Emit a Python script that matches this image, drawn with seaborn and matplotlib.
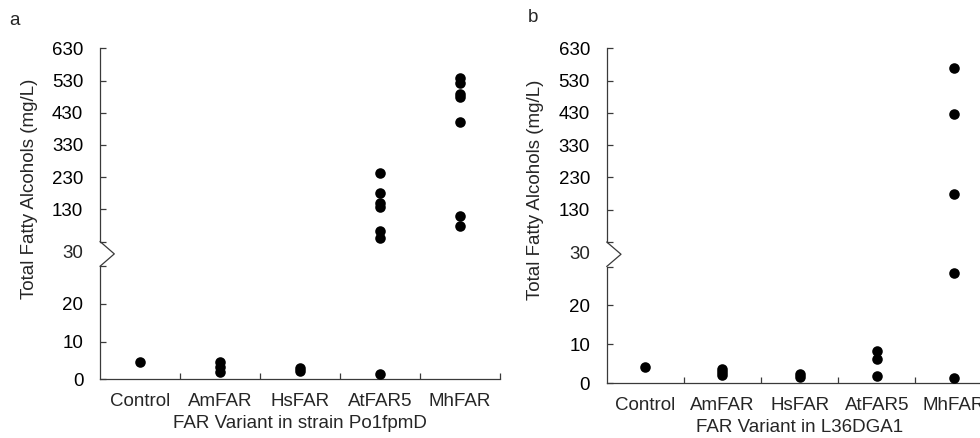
import numpy as np
import pandas as pd
import matplotlib
matplotlib.use("Agg")
import matplotlib.pyplot as plt
from matplotlib.lines import Line2D
import seaborn as sns

# ---------------- data ----------------
categories = ["Control", "AmFAR", "HsFAR", "AtFAR5", "MhFAR"]

a_control = [4.5]
a_amfar = [4.5, 3.3, 2.0]
a_hsfar = [3.1, 2.3]
a_atfar5 = [242, 180, 150, 136, 63, 40, 1.4]
a_mhfar = [537, 523, 487, 478, 402, 109, 78]

b_control = [4.0]
b_amfar = [3.5, 2.9, 2.05]
b_hsfar = [2.3, 1.6]
b_atfar5 = [8.3, 6.1, 1.8]
b_mhfar = [569, 428, 178, 28.3, 1.2]

upper_ticks = [30, 130, 230, 330, 430, 530, 630]
lower_ticks = [0, 10, 20, 30]
break_value = 30

panel_a_xlabel = "FAR Variant in strain Po1fpmD"
panel_b_xlabel = "FAR Variant in L36DGA1"
ylabel = "Total Fatty Alcohols (mg/L)"


def make_df(lists):
    rows = []
    for cat, vals in zip(categories, lists):
        for v in vals:
            rows.append((cat, v))
    return pd.DataFrame(rows, columns=["variant", "value"])


df_a = make_df([a_control, a_amfar, a_hsfar, a_atfar5, a_mhfar])
df_b = make_df([b_control, b_amfar, b_hsfar, b_atfar5, b_mhfar])

# ---------------- style ----------------
sns.set_style("ticks")
plt.rcParams["font.family"] = ["Liberation Sans", "DejaVu Sans"]
FS = 13.5
YPAD = 12
SPINE = "#3a3a3a"
LW = 0.9

W, H = 980, 438
fig = plt.figure(figsize=(W / 100, H / 100), dpi=100)


def fx(px):
    return px / W


def fy(py):
    return 1 - py / H


def panel(df, x0, x1, y630, y30top, y30bot, y0, apex_x, xlabel, ylab_x, ylab_y):
    ax_up = fig.add_axes([fx(x0), fy(y30top), fx(x1) - fx(x0), fy(y630) - fy(y30top)])
    ax_lo = fig.add_axes([fx(x0), fy(y0), fx(x1) - fx(x0), fy(y30bot) - fy(y0)])

    up = df[df["value"] > break_value]
    lo = df[df["value"] <= break_value]
    for ax, d in ((ax_up, up), (ax_lo, lo)):
        sns.stripplot(data=d, x="variant", y="value", order=categories, jitter=False,
                      color="black", size=7.6, linewidth=0, ax=ax, zorder=3)
        ax.set_xlim(-0.5, 4.5)
        ax.set_ylabel("")
        for s in ("top", "right"):
            ax.spines[s].set_visible(False)
        ax.spines["left"].set_color(SPINE)
        ax.spines["left"].set_linewidth(LW)
        ax.tick_params(axis="y", direction="in", length=4, width=LW, color=SPINE,
                       labelsize=FS, pad=YPAD, labelcolor="black")
        ax.set_facecolor("none")
        for coll in ax.collections:
            coll.set_clip_on(False)

    ax_up.set_ylim(30, 630)
    ax_up.set_yticks(upper_ticks)
    ax_up.set_yticklabels([""] + [str(t) for t in upper_ticks[1:]])
    ax_up.spines["bottom"].set_visible(False)
    ax_up.set_xticks([])
    ax_up.set_xlabel("")

    ax_lo.set_ylim(0, 30)
    ax_lo.set_yticks(lower_ticks)
    ax_lo.set_yticklabels([str(t) for t in lower_ticks[:-1]] + [""])
    ax_lo.spines["bottom"].set_color(SPINE)
    ax_lo.spines["bottom"].set_linewidth(LW)
    ax_lo.set_xticks(range(len(categories)))
    ax_lo.set_xticklabels(categories)
    ax_lo.set_xticks(np.arange(0.5, len(categories), 1.0), minor=True)
    ax_lo.tick_params(axis="x", which="major", length=0, labelsize=FS, pad=10)
    ax_lo.tick_params(axis="x", which="minor", direction="in", length=4, width=LW, color=SPINE)
    ax_lo.set_xlabel(xlabel, fontsize=FS, labelpad=3.5)

    # "30" label centred in the break
    ax_lo.annotate("30", xy=(0, 30), xycoords=("axes fraction", "data"),
                   xytext=(-YPAD, (y30bot - y30top) / 2 * 0.72), textcoords="offset points",
                   ha="right", va="center", fontsize=FS)

    # zig-zag break mark
    apex_y = (y30top + y30bot) / 2
    fig.add_artist(Line2D([fx(x0), fx(apex_x), fx(x0)], [fy(y30top), fy(apex_y), fy(y30bot)],
                          transform=fig.transFigure, color=SPINE, lw=LW))

    fig.text(fx(ylab_x), fy(ylab_y), ylabel, rotation=90, ha="center", va="center", fontsize=FS)


panel(df_a, 100, 500, 48.3, 241.5, 266.3, 379.3, 114.3, panel_a_xlabel, 30, 188.5)
panel(df_b, 606.7, 992.5, 48.3, 242.0, 266.5, 383.0, 621.0, panel_b_xlabel, 535, 190)

fig.text(fx(9), fy(25), "a", fontsize=FS, ha="left", va="baseline")
fig.text(fx(528), fy(22), "b", fontsize=FS, ha="left", va="baseline")

fig.savefig("out.png", dpi=100)
